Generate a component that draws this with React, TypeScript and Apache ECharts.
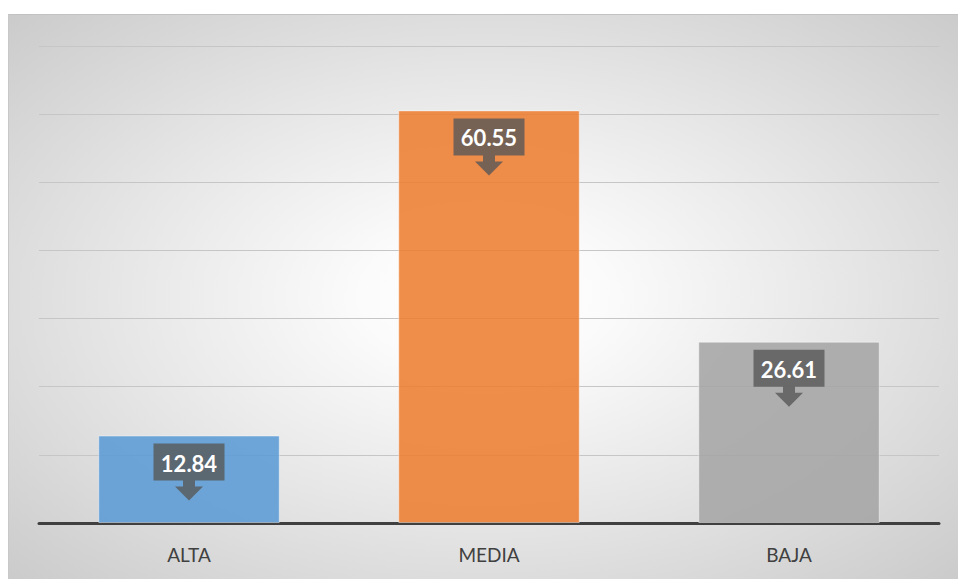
import React, { useEffect, useRef } from "react";
import * as echarts from "echarts";

const categories = ["ALTA", "MEDIA", "BAJA"];
const values = [12.84, 60.55, 26.61];
const barColors = ["rgba(91,155,213,0.88)", "rgba(237,125,49,0.88)", "rgba(165,165,165,0.88)"];

export default function App() {
  const ref = useRef<HTMLDivElement>(null);
  useEffect(() => {
    document.body.style.margin = "0";
    document.body.style.overflow = "hidden";
    document.documentElement.style.overflow = "hidden";
    if (!ref.current) return;
    const chart = echarts.init(ref.current, undefined, { renderer: "svg" });
    chart.setOption({
      animation: false,
      backgroundColor: "transparent",
      grid: { left: 30, right: 19, top: 31, bottom: 56 },
      xAxis: {
        type: "category",
        data: categories,
        axisLine: { show: true, lineStyle: { color: "#404040", width: 3 } },
        axisTick: { show: false },
        axisLabel: { color: "#404040", fontSize: 19, fontFamily: "Lato", margin: 22 },
      },
      yAxis: {
        type: "value",
        min: 0,
        max: 70,
        interval: 10,
        axisLine: { show: false },
        axisTick: { show: false },
        axisLabel: { show: false },
        splitLine: { show: true, lineStyle: { color: "#c6c6c6", width: 1 } },
      },
      series: [
        {
          type: "bar",
          barWidth: "60.5%",
          data: values.map((v, i) => ({
            value: v,
            itemStyle: { color: barColors[i], borderColor: "rgba(255,255,255,0.45)", borderWidth: 1 },
          })),
          z: 2,
        },
        {
          type: "custom",
          coordinateSystem: "cartesian2d",
          z: 5,
          data: values.map((v, i) => [i, v]),
          renderItem: (params: any, api: any) => {
            const idx = api.value(0);
            const v = api.value(1);
            const pt = api.coord([idx, v]);
            const x = pt[0];
            const top = pt[1] + 8;
            const bw = 71;
            const bh = 37;
            const b = top + bh;
            const fill = "rgba(88,88,88,0.8)";
            return {
              type: "group",
              children: [
                {
                  type: "polygon",
                  shape: {
                    points: [
                      [x - bw / 2, top],
                      [x + bw / 2, top],
                      [x + bw / 2, b],
                      [x + 6, b],
                      [x + 6, b + 6],
                      [x + 14, b + 6],
                      [x, b + 20],
                      [x - 14, b + 6],
                      [x - 6, b + 6],
                      [x - 6, b],
                      [x - bw / 2, b],
                    ],
                  },
                  style: { fill },
                },
                {
                  type: "text",
                  style: {
                    text: Number(v).toFixed(2),
                    x: x,
                    y: top + bh / 2 + 1,
                    align: "center",
                    verticalAlign: "middle",
                    fill: "#ffffff",
                    fontSize: 22,
                    fontWeight: "bold",
                    fontFamily: "Lato",
                  },
                },
              ],
            };
          },
        },
      ],
    });
    return () => chart.dispose();
  }, []);
  return (
    <div
      ref={ref}
      style={{
        marginLeft: 8,
        marginTop: 14,
        width: 950,
        height: 565,
        boxSizing: "border-box",
        borderTop: "1px solid #c2c2c2",
        borderLeft: "1px solid #c8c8c8",
        background:
          "radial-gradient(ellipse at 50% 50%, #ffffff 0%, #fbfbfb 18%, #e6e6e6 55%, #cbcbcb 100%)",
      }}
    />
  );
}
